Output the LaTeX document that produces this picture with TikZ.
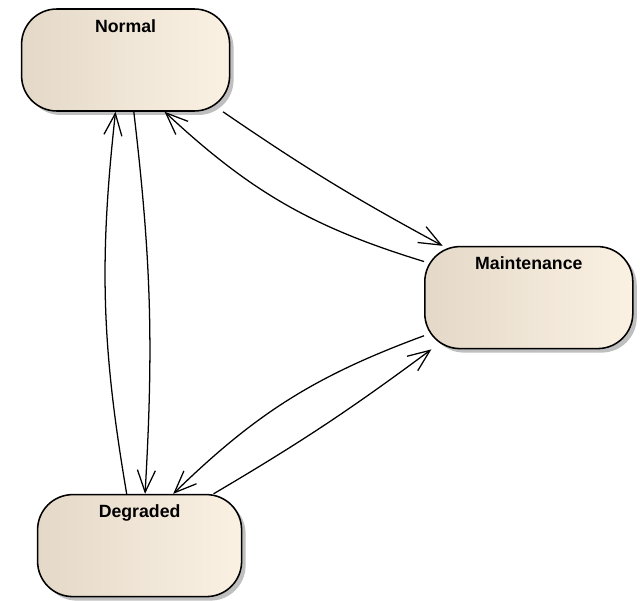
\documentclass[tikz,border=0pt]{standalone}
\usepackage{fontspec}
\setmainfont{Liberation Sans}
\usetikzlibrary{arrows.meta,shadows}
\definecolor{stateL}{HTML}{E4D9C8}
\definecolor{stateR}{HTML}{FBF1E3}
\begin{document}
\begin{tikzpicture}[
   font=\fontsize{12.6}{14}\selectfont\bfseries,
   state/.style={draw,line width=1.1pt,rounded corners=0.88cm,inner sep=0pt,
      left color=stateL,right color=stateR,
      minimum width=5.2cm,text height=0.58cm,text depth=1.97cm,
      drop shadow={shadow xshift=0.1cm,shadow yshift=-0.1cm,fill=black!25,opacity=1}},
   trans/.style={-{Straight Barb[length=0.55cm,width=0.45cm]},line width=0.9pt},
   every node/.style={auto}]
\useasboundingbox (0,0) rectangle (16,15);
\node[state] (N) at (3.14,13.5) {Normal};
\node[state] (M) at (13.22,7.56) {Maintenance};
\node[state,minimum width=5.1cm] (D) at (3.49,1.36) {Degraded};
\draw[trans] (N.279) to[bend left=5] (D.84);
\draw[trans] (D.104) to[bend left=8] (N.259);
\draw[trans] (N.332) to[bend right=3] (M.149);
\draw[trans] (M.161) to[bend left=13] (N.307);
\draw[trans] (M.200) to[bend right=12] (D.57);
\draw[trans] (D.35) to[bend right=3] (M.208);
\end{tikzpicture}
\end{document}
